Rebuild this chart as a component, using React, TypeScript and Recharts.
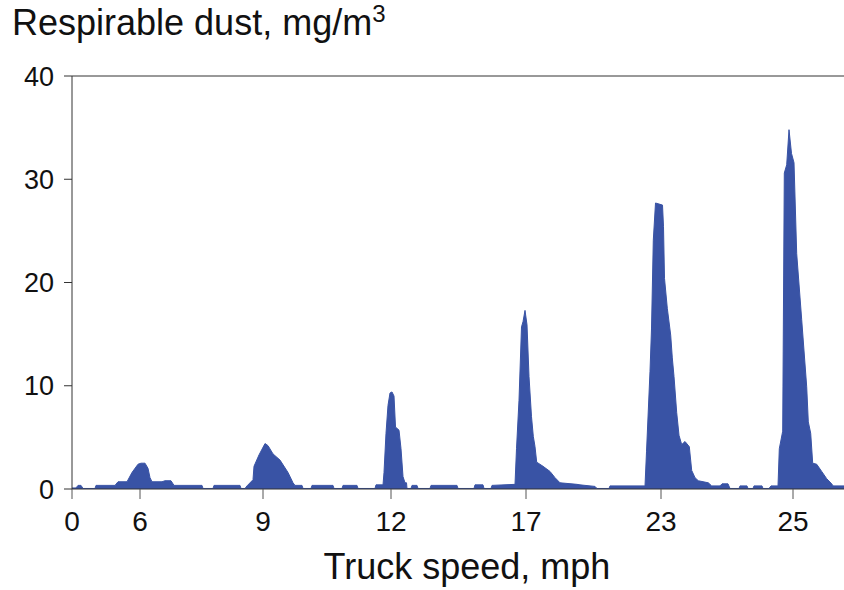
import { AreaChart, Area, XAxis, YAxis, ReferenceLine } from 'recharts';

// elapsed sample position along the run and respirable dust reading (mg/m3)
const elapsed = [
  0, 4, 6, 9, 11, 23, 24, 43, 46, 55, 60, 66, 69, 73, 76, 78, 80, 90, 93, 99,
  102, 130, 131, 141, 142, 168, 169, 173, 175, 181, 182, 187, 193, 196, 201, 208, 216, 221, 223, 230,
  231, 239, 240, 261, 262, 270, 271, 285, 286, 303, 304, 311, 312, 314, 316, 318, 320, 322, 323.5, 327,
  329, 331, 333, 334.5, 335, 339, 340, 345, 346, 358, 359, 385, 386, 402, 403, 411, 412, 419, 420, 443,
  444.5, 447, 449.5, 451, 453, 455, 457, 459.5, 461.3, 463, 464.7, 471, 478, 483, 488, 505, 508, 523, 525, 537,
  538, 573, 574.5, 578, 579.5, 581.3, 583.5, 590.5, 591.5, 592.5, 595.3, 598.7, 600.3, 602, 604.7, 607, 609.7, 613, 617.3, 619.7,
  623, 626.3, 636.3, 639.7, 648, 650, 656, 658, 667, 668, 675, 676, 681, 682, 690, 691, 697, 699, 706, 707.3,
  710.7, 712.3, 714.7, 717, 719.5, 722, 724.7, 729.7, 734.7, 736.3, 738.7, 740.7, 744.7, 749.7, 754.7, 759.7, 761, 772,
];

const dust = [
  0.1, 0.1, 0.35, 0.35, 0.05, 0.05, 0.35, 0.35, 0.7, 0.7, 1.6, 2.4, 2.5, 2.5, 2.0, 1.1, 0.7, 0.7, 0.8, 0.8,
  0.35, 0.35, 0.05, 0.05, 0.35, 0.35, 0.05, 0.05, 0.3, 0.9, 2.2, 3.3, 4.4, 4.2, 3.4, 2.8, 1.6, 0.6, 0.35, 0.35,
  0.05, 0.05, 0.35, 0.35, 0.05, 0.05, 0.35, 0.35, 0.05, 0.05, 0.4, 0.4, 1.6, 5.4, 8.1, 9.3, 9.4, 9.0, 6.0, 5.7,
  3.9, 1.2, 0.6, 0.6, 0.05, 0.05, 0.35, 0.35, 0.05, 0.05, 0.35, 0.35, 0.05, 0.05, 0.4, 0.4, 0.05, 0.05, 0.35, 0.45,
  3.9, 8.6, 15.7, 16.2, 17.3, 15.9, 10.9, 7.0, 5.1, 4.1, 2.6, 2.2, 1.7, 1.1, 0.6, 0.45, 0.4, 0.25, 0.05, 0.05,
  0.3, 0.3, 3.6, 11.4, 15.5, 24.1, 27.7, 27.5, 25.4, 20.4, 17.5, 14.9, 12.7, 10.9, 7.4, 5.2, 4.3, 4.6, 4.1, 1.8,
  1.1, 0.8, 0.6, 0.3, 0.3, 0.5, 0.5, 0.05, 0.05, 0.3, 0.3, 0.05, 0.05, 0.3, 0.3, 0.05, 0.05, 0.3, 0.3, 3.9,
  5.6, 30.6, 31.4, 34.8, 32.5, 31.6, 22.8, 16.4, 9.9, 6.5, 5.4, 2.5, 2.4, 1.7, 1.0, 0.5, 0.3, 0.3,
];

// where each truck speed segment is marked on the run
const speedTickPos = [0, 68, 191, 319, 454, 589, 721];
const speedTickLabels = ['0', '6', '9', '12', '17', '23', '25'];
const dustTicks = [0, 10, 20, 30, 40];

const data = elapsed.map((t, i) => ({ t, dust: dust[i] }));

const FONT = "'Liberation Sans', Arial, Helvetica, sans-serif";
const FILL = '#3953a5';
const AXIS = '#333333';

export default function App() {
  return (
    <div style={{ position: 'absolute', left: 0, top: 0, width: 844, height: 590, background: '#fff', fontFamily: FONT }}>
      <div style={{ position: 'absolute', left: 12, top: 5, fontSize: 36, color: '#111', lineHeight: 1, whiteSpace: 'nowrap' }}>
        Respirable dust, mg/m<sup style={{ fontSize: 24, verticalAlign: 0, position: 'relative', top: -13 }}>3</sup>
      </div>
      <AreaChart width={844} height={590} data={data} margin={{ top: 76, right: 0, bottom: 0, left: 0 }}>
        <XAxis
          dataKey="t"
          type="number"
          domain={[0, 772]}
          ticks={speedTickPos}
          tickFormatter={(v) => speedTickLabels[speedTickPos.indexOf(v)] ?? ''}
          interval={0}
          height={101}
          tickSize={10}
          tickMargin={12}
          tick={{ fontSize: 28, fill: '#111', fontFamily: FONT }}
          axisLine={{ stroke: AXIS }}
          tickLine={{ stroke: '#555' }}
          label={{ value: 'Truck speed, mph', position: 'insideBottom', offset: 11, dx: 9, fontSize: 36, fill: '#111', fontFamily: FONT }}
        />
        <YAxis
          domain={[0, 40]}
          ticks={dustTicks}
          width={72}
          tickSize={8}
          tickMargin={10}
          tick={{ fontSize: 27, fill: '#111', fontFamily: FONT }}
          axisLine={{ stroke: AXIS }}
          tickLine={{ stroke: AXIS }}
        />
        <ReferenceLine y={40} stroke={AXIS} />
        <Area
          type="linear"
          dataKey="dust"
          stroke={FILL}
          strokeWidth={1}
          fill={FILL}
          fillOpacity={1}
          isAnimationActive={false}
        />
      </AreaChart>
    </div>
  );
}
